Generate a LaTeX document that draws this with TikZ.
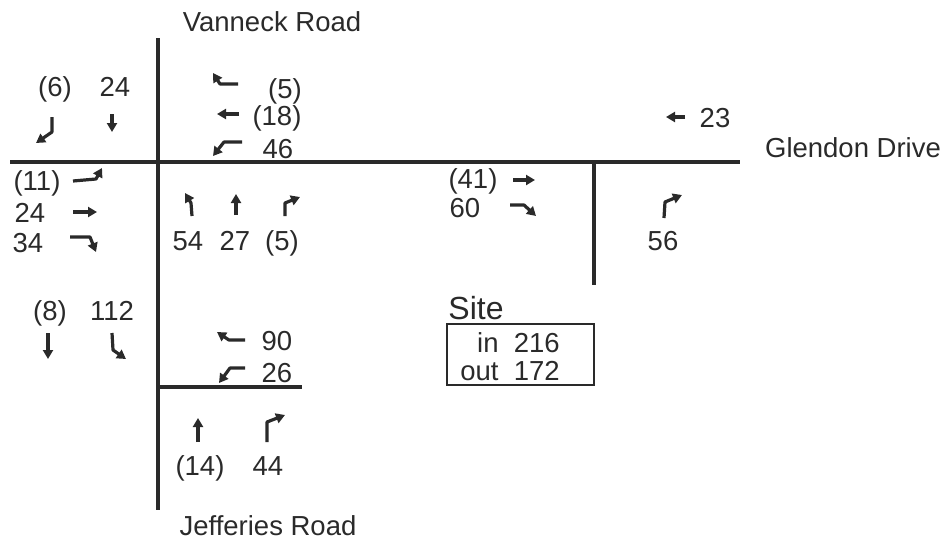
\documentclass[tikz,border=0pt]{standalone}
\usepackage{fontspec}
\setmainfont{Liberation Sans}
\usetikzlibrary{arrows.meta}
\definecolor{ink}{HTML}{2A2A2A}
\definecolor{road}{HTML}{2A2A2A}
\tikzset{
  lbl/.style={anchor=base,inner sep=0pt,text=ink,font=\fontsize{27.5}{27.5}\selectfont},
  roadline/.style={draw=road,line width=3.2pt},
  mv/.style={draw=ink,line width=3.2pt,line join=round,-{Triangle[length=9pt,width=10pt]}},
}
\begin{document}
\begin{tikzpicture}[x=1pt,y=-1pt]
\useasboundingbox (0,0) rectangle (943,542);
% roads
\coordinate (vT) at (158,38); \coordinate (vB) at (158,510);
\coordinate (gL) at (10,162); \coordinate (gR) at (740,162);
\coordinate (sT) at (594,162); \coordinate (sB) at (594,285);
\coordinate (jL) at (158,387); \coordinate (jR) at (302,387);
\draw[roadline] (vT) -- (vB);
\draw[roadline] (gL) -- (gR);
\draw[roadline] (sT) -- (sB);
\draw[roadline] (jL) -- (jR);
% road names
\node[lbl] (vanneck) at (272,31) {Vanneck Road};
\node[lbl] (glendon) at (853,157) {Glendon Drive};
\node[lbl] (jefferies) at (268,535) {Jefferies Road};
% labels
\node[lbl] (a1) at (55,96) {(6)};
\node[lbl] (a2) at (115,96) {24};
\node[lbl] (b1) at (285,98) {(5)};
\node[lbl] (b2) at (277,125) {(18)};
\node[lbl] (b3) at (278,158) {46};
\node[lbl] (c1) at (715,127) {23};
\node[lbl] (d1) at (37,190) {(11)};
\node[lbl] (d2) at (30,222) {24};
\node[lbl] (d3) at (28,252) {34};
\node[lbl] (e1) at (188,250) {54};
\node[lbl] (e2) at (235,250) {27};
\node[lbl] (e3) at (282,250) {(5)};
\node[lbl] (f1) at (473,188) {(41)};
\node[lbl] (f2) at (465,217) {60};
\node[lbl] (g1) at (663,250) {56};
\node[lbl] (h1) at (50,320) {(8)};
\node[lbl] (h2) at (112,320) {112};
\node[lbl] (i1) at (277,350) {90};
\node[lbl] (i2) at (277,382) {26};
\node[lbl] (k1) at (200,475) {(14)};
\node[lbl] (k2) at (268,475) {44};
% site
\node[lbl,font=\fontsize{32}{32}\selectfont] (site) at (476,319) {Site};
\draw[draw=road,line width=1.5pt] (447,324) rectangle (594,385);
\node[lbl,anchor=base east] (sin) at (560,352) {in\ \ 216};
\node[lbl,anchor=base east] (sout) at (560,380) {out\ \ 172};
% movement arrows
\draw[mv] (52,117) -- (52,132) -- (36,143);
\draw[mv] (112,114) -- (112,132);
\draw[mv] (238,84) -- (220,84) -- (213,73);
\draw[mv] (239,114) -- (217,114);
\draw[mv] (242,142) -- (224,142) -- (213,156);
\draw[mv] (685,117) -- (666,117);
\draw[mv] (73,181) -- (96,179) -- (102,168);
\draw[mv] (73,212) -- (97,212);
\draw[mv] (70,237) -- (90,237) -- (96,252);
\draw[mv] (192,216) -- (191,203) -- (185,193);
\draw[mv] (236,215) -- (236,194);
\draw[mv] (285,216) -- (285,203) -- (300,197);
\draw[mv] (513,180) -- (535,180);
\draw[mv] (510,205) -- (524,205) -- (536,216);
\draw[mv] (664,218) -- (665,202) -- (682,195);
\draw[mv] (48,333) -- (48,359);
\draw[mv] (112,333) -- (113,350) -- (126,359);
\draw[mv] (245,340) -- (229,340) -- (217,332);
\draw[mv] (245,368) -- (230,368) -- (219,383);
\draw[mv] (198,442) -- (198,418);
\draw[mv] (267,442) -- (267,422) -- (285,415);
\end{tikzpicture}
\end{document}
